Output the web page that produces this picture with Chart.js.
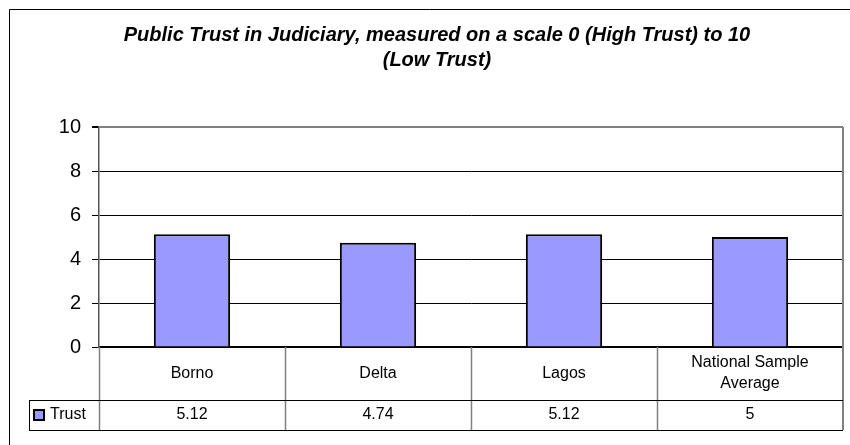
<!DOCTYPE html>
<html>
<head>
<meta charset="utf-8">
<script src="https://cdn.jsdelivr.net/npm/chart.js@4"></script>
<style>
  html, body { margin: 0; padding: 0; background: #fff; }
  #wrap { width: 850px; height: 445px; }
</style>
</head>
<body>
<div id="wrap"><canvas id="trustChart" width="850" height="445"></canvas></div>
<script>
const categories = [['Borno'], ['Delta'], ['Lagos'], ['National Sample', 'Average']];
const seriesName = 'Trust';
const trustValues = [5.12, 4.74, 5.12, 5];
const yMin = 0;
const yMax = 10;
const yStep = 2;
const titleLines = ['Public Trust in Judiciary, measured on a scale 0 (High Trust) to 10', '(Low Trust)'];

let bar_color = '#9999FF';
let font_family = '"Liberation Sans", Arial, sans-serif';

// frame, plot border and the data table under the axis
const tablePlugin = {
    id: 'dataTable',
    beforeDraw(chart) {
        const ctx = chart.ctx;
        ctx.save();
        ctx.fillStyle = '#fff';
        ctx.fillRect(0, 0, chart.width, chart.height);
        ctx.strokeStyle = '#000';
        ctx.lineWidth = 1;
        ctx.beginPath();
        ctx.moveTo(9.5, chart.height);
        ctx.lineTo(9.5, 9.5);
        ctx.lineTo(chart.width, 9.5);
        ctx.stroke();
        ctx.restore();
    },
    afterDraw(chart) {
        const ctx = chart.ctx;
        const area = chart.chartArea;
        const n = categories.length;
        const cellW = (area.right - area.left) / n;
        const row1 = area.bottom + 53;
        const row2 = row1 + 30;
        const legendLeft = 29;
        ctx.save();

        // vertical cell lines (gray), incl. right border of plot
        ctx.strokeStyle = '#808080';
        ctx.lineWidth = 1.5;
        for (let i = 0; i < n; i++) {
            const x = Math.round(area.left + i * cellW) + 0.5;
            ctx.beginPath();
            ctx.moveTo(x, area.bottom);
            ctx.lineTo(x, row2);
            ctx.stroke();
        }
        ctx.lineWidth = 2;
        ctx.beginPath();
        ctx.moveTo(area.right, area.top);
        ctx.lineTo(area.right, row2);
        ctx.stroke();

        // horizontal lines of value row
        ctx.strokeStyle = '#000';
        ctx.lineWidth = 1;
        ctx.beginPath();
        ctx.moveTo(legendLeft, row1 + 0.5);
        ctx.lineTo(area.right, row1 + 0.5);
        ctx.moveTo(legendLeft, row2 + 0.5);
        ctx.lineTo(area.right, row2 + 0.5);
        ctx.moveTo(legendLeft + 0.5, row1);
        ctx.lineTo(legendLeft + 0.5, row2);
        ctx.stroke();

        ctx.fillStyle = '#000';
        ctx.font = '16px ' + font_family;
        ctx.textAlign = 'center';
        ctx.textBaseline = 'middle';
        const xScale = chart.scales.x;
        categories.forEach((lines, i) => {
            const cx = xScale.getPixelForValue(i);
            const cy = (area.bottom + row1) / 2;
            const lh = 21;
            lines.forEach((t, j) => {
                ctx.fillText(t, cx, cy + (j - (lines.length - 1) / 2) * lh);
            });
            ctx.fillText(String(trustValues[i]), cx, (row1 + row2) / 2);
        });

        // legend key
        const ky = (row1 + row2) / 2;
        ctx.fillStyle = bar_color;
        ctx.fillRect(34, ky - 5, 10, 10);
        ctx.strokeStyle = '#000';
        ctx.lineWidth = 2;
        ctx.strokeRect(34, ky - 5, 10, 10);
        ctx.fillStyle = '#000';
        ctx.textAlign = 'left';
        ctx.fillText(seriesName, 50, ky);
        ctx.restore();
    }
};

document.addEventListener('DOMContentLoaded', function () {
    const ctx = document.getElementById('trustChart').getContext('2d');
    new Chart(ctx, {
        type: 'bar',
        data: {
            labels: categories,
            datasets: [{
                label: seriesName,
                data: trustValues,
                backgroundColor: bar_color,
                borderColor: '#000',
                borderWidth: 2,
                categoryPercentage: 1,
                barPercentage: 0.41
            }]
        },
        options: {
            responsive: false,
            animation: false,
            layout: { padding: { left: 31, right: 7, top: 9, bottom: 0 } },
            plugins: {
                legend: { display: false },
                tooltip: { enabled: false },
                title: {
                    display: true,
                    text: titleLines,
                    color: '#000',
                    font: { family: font_family, size: 20, weight: 'bold', style: 'italic', lineHeight: 1.25 },
                    padding: { top: 13.5, bottom: 54.5 }
                }
            },
            scales: {
                x: {
                    ticks: { display: false },
                    grid: { display: false, drawTicks: false },
                    border: { color: '#000', width: 1.5 },
                    afterFit: (s) => { s.height = 98; }
                },
                y: {
                    min: yMin,
                    max: yMax,
                    ticks: {
                        stepSize: yStep,
                        color: '#000',
                        padding: 11,
                        font: { family: font_family, size: 20 }
                    },
                    grid: {
                        color: (c) => c.tick && c.tick.value === yMax ? '#808080' : '#000',
                        lineWidth: (c) => c.tick && c.tick.value === yMax ? 2 : 1,
                        tickColor: '#000',
                        tickLength: 7
                    },
                    border: { color: '#555', width: 1.5 },
                    afterFit: (s) => { s.width = 68; }
                }
            }
        },
        plugins: [tablePlugin]
    });
});
</script>
</body>
</html>
